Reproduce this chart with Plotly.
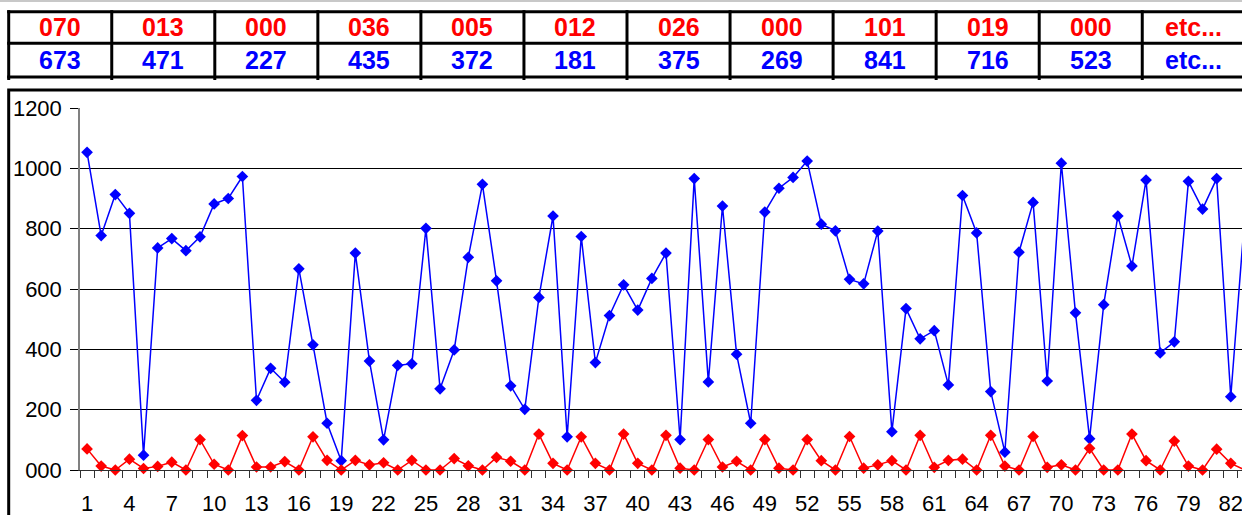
import plotly.graph_objects as go

W, H = 1242, 515

# ---- data ----
blue = [1053, 777, 913, 851, 49, 736, 767, 727, 773, 882, 900, 973, 231, 337, 291,
        667, 415, 155, 31, 719, 361, 100, 347, 352, 801, 269, 398, 705, 947, 627,
        279, 201, 572, 842, 110, 774, 356, 512, 614, 530, 635, 719, 101, 966, 292,
        875, 384, 155, 855, 934, 970, 1024, 815, 793, 632, 617, 792, 127, 535, 435,
        462, 282, 910, 786, 260, 59, 722, 887, 295, 1017, 521, 104, 548, 842, 676,
        961, 388, 425, 957, 865, 966, 243, 848]
red = [70, 13, 0, 36, 5, 12, 26, 0, 101, 19, 0, 114, 10, 10, 28,
       0, 110, 32, 0, 32, 17, 24, 0, 32, 0, 0, 38, 14, 0, 42,
       29, 0, 119, 22, 0, 110, 22, 0, 119, 22, 0, 115, 6, 0, 101,
       10, 29, 0, 101, 6, 0, 101, 31, 0, 111, 6, 17, 31, 0, 115,
       9, 32, 36, 0, 115, 13, 0, 111, 9, 17, 0, 72, 0, 0, 119,
       31, 0, 96, 13, 0, 69, 22, 0]
xs = list(range(1, len(blue) + 1))

table_red = ["070", "013", "000", "036", "005", "012", "026", "000", "101", "019", "000", "etc..."]
table_blue = ["673", "471", "227", "435", "372", "181", "375", "269", "841", "716", "523", "etc..."]

ytick_vals = [0, 200, 400, 600, 800, 1000, 1200]
ytick_text = ["000", "200", "400", "600", "800", "1000", "1200"]
xtick_vals = list(range(1, 83, 3))
xtick_text = [str(v) for v in xtick_vals]

# ---- layout geometry (pixels) ----
PLOT_L, PLOT_T, PLOT_B = 80, 108, 470
STEP = 14.12
FONT = "Liberation Sans, Arial, sans-serif"


def px(v):
    return v / W


def py(v):
    return 1 - v / H


fig = go.Figure()
fig.add_trace(go.Scatter(x=xs, y=blue, mode="lines+markers",
                         line=dict(color="#0000FF", width=1.5),
                         marker=dict(symbol="diamond", size=9, color="#0000FF"),
                         cliponaxis=False, showlegend=False))
fig.add_trace(go.Scatter(x=xs, y=red, mode="lines+markers",
                         line=dict(color="#FF0000", width=1.5),
                         marker=dict(symbol="diamond", size=9, color="#FF0000"),
                         cliponaxis=False, showlegend=False))

shapes = []
# faint top line
shapes.append(dict(type="line", xref="paper", yref="paper", x0=0, x1=1,
                   y0=py(1), y1=py(1), line=dict(color="#c8c8c8", width=2)))
# table grid
col0, colw = 8.7, 103.05
ncol = len(table_red)
for yy in (11.7, 43.3, 77):
    shapes.append(dict(type="line", xref="paper", yref="paper",
                       x0=px(col0 - 1.5), x1=px(col0 + ncol * colw + 10),
                       y0=py(yy), y1=py(yy), line=dict(color="black", width=3)))
for k in range(ncol + 1):
    xx = col0 + k * colw
    shapes.append(dict(type="line", xref="paper", yref="paper",
                       x0=px(xx), x1=px(xx), y0=py(10.2), y1=py(80),
                       line=dict(color="black", width=3)))
# chart border
shapes.append(dict(type="rect", xref="paper", yref="paper",
                   x0=px(8.7), x1=px(W + 20), y0=py(H + 20), y1=py(90),
                   line=dict(color="black", width=3), fillcolor="rgba(0,0,0,0)"))

annotations = []
for k in range(ncol):
    cx = col0 + k * colw + colw / 2
    annotations.append(dict(xref="paper", yref="paper", x=px(cx), y=py(27.5),
                            text="<b>%s</b>" % table_red[k], showarrow=False,
                            xanchor="center", yanchor="middle",
                            font=dict(family=FONT, size=25, color="#FF0000")))
    annotations.append(dict(xref="paper", yref="paper", x=px(cx), y=py(60.5),
                            text="<b>%s</b>" % table_blue[k], showarrow=False,
                            xanchor="center", yanchor="middle",
                            font=dict(family=FONT, size=25, color="#0000FF")))

x_right = 0.5 + (W - PLOT_L) / STEP

fig.update_layout(
    width=W, height=H,
    margin=dict(l=0, r=0, t=0, b=0, pad=0),
    paper_bgcolor="white", plot_bgcolor="white",
    font=dict(family=FONT, size=22, color="black"),
    shapes=shapes, annotations=annotations,
    xaxis=dict(domain=[px(PLOT_L), 1], range=[0.5, x_right],
               tickmode="array", tickvals=xtick_vals, ticktext=xtick_text,
               ticks="", showgrid=False, zeroline=False,
               showline=True, linecolor="#303030", linewidth=1,
               ticklabelstandoff=14, ticklabeloverflow="allow", automargin=False,
               tickfont=dict(family=FONT, size=22, color="black"),
               minor=dict(ticks="outside", ticklen=7, tickwidth=1, tickcolor="#303030",
                          tick0=0.5, dtick=1, showgrid=False)),
    yaxis=dict(domain=[1 - PLOT_B / H, 1 - PLOT_T / H], range=[0, 1200],
               tickmode="array", tickvals=ytick_vals, ticktext=ytick_text,
               ticks="outside", ticklen=8, tickwidth=1, tickcolor="black",
               showgrid=True, gridcolor="black", gridwidth=1, zeroline=False,
               showline=True, linecolor="#808080", linewidth=1.5,
               ticklabelstandoff=4, automargin=False,
               tickfont=dict(family=FONT, size=22, color="black")),
)

fig.write_html("out.html", config={"displayModeBar": False},
               post_script="document.body.style.margin='0px';document.body.style.overflow='hidden';")
